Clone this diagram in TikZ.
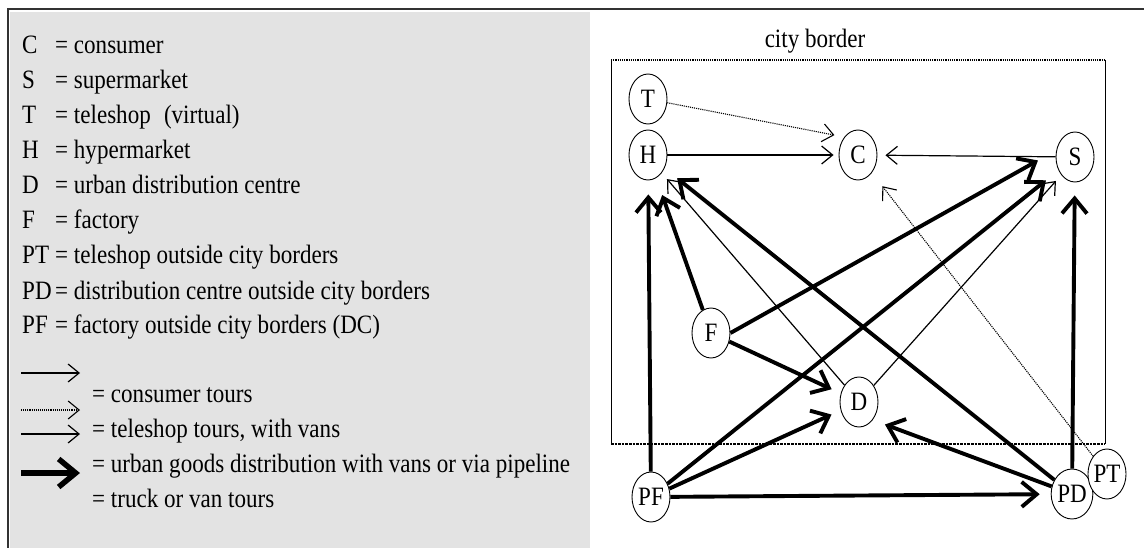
\documentclass[tikz,border=0pt]{standalone}
\usepackage{fontspec}
\setmainfont{Liberation Serif}[FakeStretch=0.87]
\usepackage{tikz}
\usetikzlibrary{shapes,arrows.meta,positioning,calc}
\definecolor{panelgrey}{RGB}{227,227,227}
\newcommand{\legendfont}{\fontsize{26.5}{30}\selectfont}

\begin{document}
\begin{tikzpicture}[x=1pt,y=-1pt,font=\legendfont,
    place/.style={draw, ellipse, fill=white, line width=0.9pt, minimum width=38pt, minimum height=50pt, inner sep=0pt},
    thinarrow/.style={line width=1.2pt, -{Straight Barb[length=11pt,width=18pt]}},
    dotarrow/.style={line width=1.1pt, densely dotted, -{Straight Barb[length=11pt,width=18pt]}},
    heavyarrow/.style={line width=3.9pt, -{Straight Barb[length=15pt,width=25pt]}}]
    \useasboundingbox (0,0) rectangle (1144,548);
    % frame and grey legend panel
    \fill[panelgrey] (10,12) rectangle (590,548);
    \draw[line width=2.6pt, black!80] (1144,9) -- (8,9) -- (8,548);

    % legend text using foreach loop
    \foreach \k/\txt [count=\i] in {
        C/consumer,
        S/supermarket,
        T/{teleshop\enspace(virtual)},
        H/hypermarket,
        D/urban distribution centre,
        F/factory,
        PT/teleshop outside city borders,
        PD/distribution centre outside city borders,
        PF/factory outside city borders (DC)
    } {
        \node[anchor=base west, inner sep=0pt] (key\k) at (22,{54+35*(\i-1)}) {\k};
        \node[anchor=base west, inner sep=0pt] (desc\k) at (55,{54+35*(\i-1)}) {= \txt};
    }
    \foreach \y/\txt [count=\i] in {
        402/consumer tours,
        437/{teleshop tours, with vans},
        472/urban goods distribution with vans or via pipeline,
        507/truck or van tours
    } {
        \node[anchor=base west, inner sep=0pt] (tour\i) at (92,\y) {= \txt};
    }

    % legend arrows
    \foreach \n/\y in {a/373, b/410, c/434, d/473} {
        \coordinate (\n0) at (21,\y);
        \coordinate (\n1) at (80,\y);
    }
    \draw[thinarrow] (a0) -- (a1);
    \draw[dotarrow] (b0) -- (b1);
    \draw[thinarrow] (c0) -- (c1);
    \draw[line width=5.5pt, -{Straight Barb[length=17pt,width=28pt]}] (d0) -- (d1);

    % city border
    \node[anchor=base] (border) at (815,48) {city border};
    \draw[line width=1pt] (611,60) -- (611,444);
    \draw[line width=1pt] (1105,60) -- (1105,444);
    \draw[line width=1.2pt, densely dotted] (611,60) -- (1105,60);
    \draw[line width=2.6pt, densely dotted] (611,444) -- (1105,444);

    % places
    \foreach \name/\x/\y in {
        T/648/99,
        H/648/155,
        C/858/155,
        S/1075/157,
        F/711/333,
        D/859/402,
        PF/651/497,
        PD/1072/494,
        PT/1107/474
    } {
        \node[place] (\name) at (\x,\y) {\name};
    }

    % tours
    \draw[dotarrow, shorten >=10pt] (T) -- (C.north west);
    \draw[dotarrow, shorten >=17pt] (PT) -- (C);
    \foreach \a/\b/\s in {
        H/C/5pt,
        S/C/8pt,
        D/H.south east/8pt,
        D/S.south west/8pt
    }{
        \draw[thinarrow, shorten >=\s] (\a) -- (\b);
    }
    \foreach \a/\b/\s in {
        PF/H/14pt,
        F/H/18pt,
        PD/H/16pt,
        F.east/S.160/21pt,
        PF/S/16pt,
        PD/S/13pt,
        F/D/10pt,
        PF/D/10pt,
        PD/D.south east/13pt,
        PF/PD/11pt
    }{
        \draw[heavyarrow, shorten >=\s] (\a) -- (\b);
    }
\end{tikzpicture}
\end{document}
